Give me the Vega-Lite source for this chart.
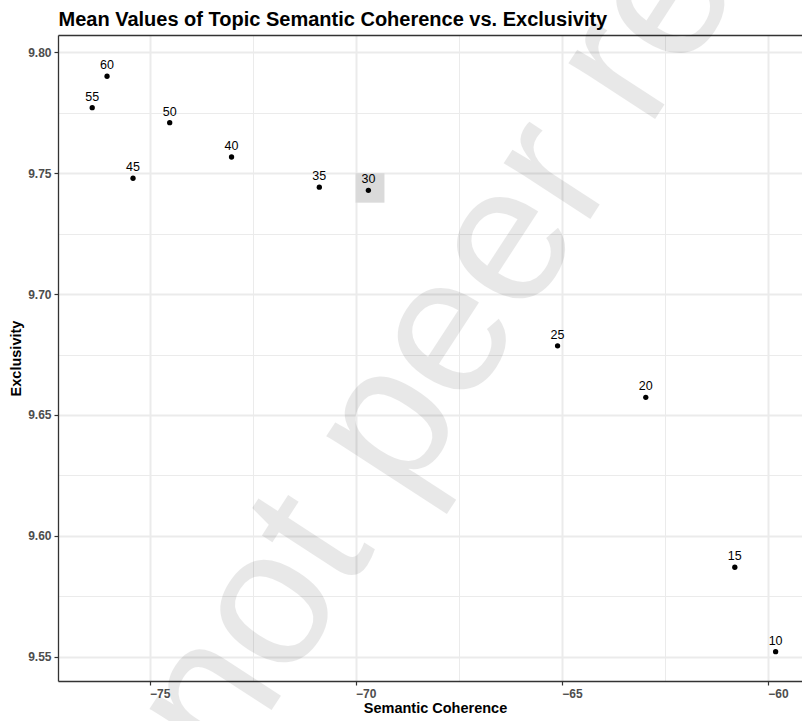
{
  "$schema": "https://vega.github.io/schema/vega-lite/v6.json",
  "width": 744,
  "height": 646,
  "autosize": {"type": "none"},
  "padding": {"left": 58, "top": 35, "right": 0, "bottom": 40},
  "background": "white",
  "config": {
    "view": {"stroke": null},
    "font": "Liberation Sans"
  },
  "datasets": {
    "points": [
      {"topics": "10", "x": -59.81, "y": 9.5521},
      {"topics": "15", "x": -60.80, "y": 9.5870},
      {"topics": "20", "x": -62.96, "y": 9.6573},
      {"topics": "25", "x": -65.10, "y": 9.6786},
      {"topics": "30", "x": -69.69, "y": 9.7429},
      {"topics": "35", "x": -70.88, "y": 9.7442},
      {"topics": "40", "x": -73.01, "y": 9.7567},
      {"topics": "45", "x": -75.40, "y": 9.7479},
      {"topics": "50", "x": -74.51, "y": 9.7709},
      {"topics": "55", "x": -76.39, "y": 9.7771},
      {"topics": "60", "x": -76.03, "y": 9.7901}
    ],
    "highlight": [
      {"x": -70.0, "x2": -69.3, "y": 9.75, "y2": 9.7378}
    ],
    "watermark": [
      {"text": "not peer reviewed", "x": -73.08, "y": 9.5007}
    ]
  },
  "resolve": {"axis": {"x": "independent"}},
  "layer": [
    {
      "encoding": {
        "x": {
          "field": "x", "type": "quantitative",
          "scale": {"domain": [-77.22, -59.17], "nice": false, "zero": false},
          "axis": {
            "title": "Semantic Coherence",
            "values": [-75, -72.5, -70, -67.5, -65, -62.5, -60],
            "format": "d",
            "labelExpr": "datum.value % 5 === 0 ? datum.label : ''",
            "labelAlign": "left",
            "labelFlush": false,
            "labelOverlap": false,
            "labelFont": "Liberation Sans",
            "labelFontSize": 12,
            "labelFontWeight": "bold",
            "labelColor": "#4D4D4D",
            "labelPadding": 3,
            "tickSize": 4,
            "tickColor": "#333333",
            "tickWidth": 1.2,
            "tickOpacity": {"condition": {"test": "datum.value % 5 !== 0", "value": 0}, "value": 1},
            "grid": true,
            "gridColor": "#EBEBEB",
            "gridWidth": {"condition": {"test": "datum.value % 5 !== 0", "value": 1}, "value": 2},
            "domainColor": "#333333",
            "domainWidth": 1.3,
            "titleFont": "Liberation Sans",
            "titleFontSize": 14.5,
            "titleFontWeight": "bold",
            "titleColor": "#000000",
            "titlePadding": 2,
            "titleX": 377
          }
        },
        "y": {
          "field": "y", "type": "quantitative",
          "scale": {"domain": [9.53995, 9.80716], "nice": false, "zero": false},
          "axis": {
            "title": "Exclusivity",
            "values": [9.55, 9.575, 9.6, 9.625, 9.65, 9.675, 9.7, 9.725, 9.75, 9.775, 9.8],
            "format": ".2f",
            "labelExpr": "round(datum.value * 1000) % 50 === 0 ? datum.label : ''",
            "labelOverlap": false,
            "labelFont": "Liberation Sans",
            "labelFontSize": 12,
            "labelFontWeight": "bold",
            "labelColor": "#4D4D4D",
            "labelPadding": 3,
            "tickSize": 4,
            "tickColor": "#333333",
            "tickWidth": 1.2,
            "tickOpacity": {"condition": {"test": "round(datum.value * 1000) % 50 !== 0", "value": 0}, "value": 1},
            "grid": true,
            "gridColor": "#EBEBEB",
            "gridWidth": {"condition": {"test": "round(datum.value * 1000) % 50 !== 0", "value": 1}, "value": 2},
            "domainColor": "#333333",
            "domainWidth": 1.3,
            "titleFont": "Liberation Sans",
            "titleFontSize": 14.5,
            "titleFontWeight": "bold",
            "titleColor": "#000000",
            "titlePadding": 4
          }
        }
      },
      "layer": [
        {
          "data": {"name": "highlight"},
          "mark": {"type": "rect", "color": "#DADADA"},
          "encoding": {
            "x2": {"field": "x2"},
            "y2": {"field": "y2"}
          }
        },
        {
          "data": {"name": "points"},
          "mark": {"type": "circle", "size": 28, "color": "#000000", "opacity": 1}
        },
        {
          "data": {"name": "points"},
          "mark": {"type": "text", "align": "center", "baseline": "alphabetic", "dy": -7, "fontSize": 12.5, "font": "Liberation Sans", "color": "#000000"},
          "encoding": {
            "text": {"field": "topics", "type": "nominal"}
          }
        },
        {
          "data": {"name": "watermark"},
          "mark": {"type": "text", "align": "left", "baseline": "alphabetic", "angle": -57, "fontSize": 195, "font": "Liberation Sans", "color": "#000000", "opacity": 0.085},
          "encoding": {
            "text": {"field": "text"}
          }
        }
      ]
    },
    {
      "data": {"name": "highlight"},
      "mark": {"type": "point", "opacity": 0},
      "encoding": {
        "x": {
          "field": "x", "type": "quantitative",
          "scale": {"domain": [-77.22, -59.17], "nice": false, "zero": false},
          "axis": {
            "orient": "top",
            "labels": false,
            "ticks": false,
            "grid": false,
            "domain": true,
            "domainColor": "#333333",
            "domainWidth": 1.3,
            "title": "Mean Values of Topic Semantic Coherence vs. Exclusivity",
            "titleFont": "Liberation Sans",
            "titleFontSize": 20,
            "titleFontWeight": "bold",
            "titleColor": "#000000",
            "titleAlign": "left",
            "titleBaseline": "alphabetic",
            "titleX": 0,
            "titleY": -10
          }
        },
        "y": {
          "field": "y", "type": "quantitative",
          "scale": {"domain": [9.53995, 9.80716], "nice": false, "zero": false}
        }
      }
    }
  ]
}
